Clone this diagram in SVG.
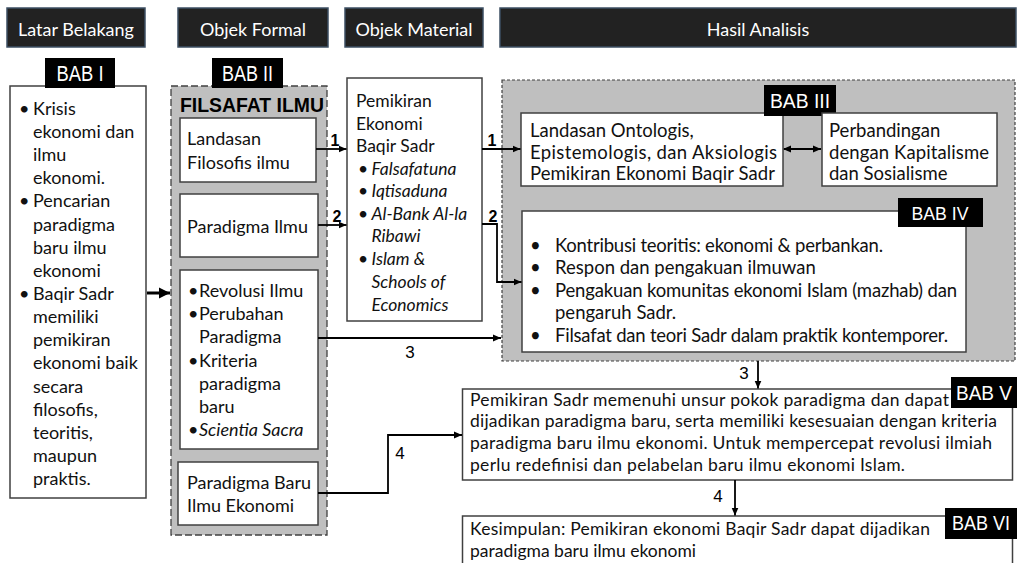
<svg xmlns="http://www.w3.org/2000/svg" width="1028" height="563" viewBox="0 0 1028 563">
<style>
.hdr{fill:#222;stroke:#3d4f63;stroke-width:1.5}
.ht{fill:#fff;font-family:Lato,'Open Sans',sans-serif;font-size:18px;text-anchor:middle}
.bab{fill:#000}
.bt{fill:#fff;font-family:'Liberation Sans',Arial,sans-serif;text-anchor:middle}
.box{fill:#fff;stroke:#404040;stroke-width:1.5}
.gray1{fill:#bfbfbf;stroke:#404040;stroke-width:1.3;stroke-dasharray:7 3}
.gray2{fill:#bfbfbf;stroke:#404040;stroke-width:1.2;stroke-dasharray:3 2}
.t{font-family:Lato,'Open Sans',sans-serif;font-size:18px;fill:#111}
.s{font-family:Lato,'Open Sans',sans-serif;font-size:17.5px;fill:#111}
.m{font-family:Lato,'Open Sans',sans-serif;font-size:18.5px;fill:#111}
.i{font-style:italic}
.num{font-family:'Liberation Sans',Arial,sans-serif;font-size:17px;fill:#000;text-anchor:middle}
.nb{font-family:'Liberation Sans',Arial,sans-serif;font-size:16px;font-weight:bold;fill:#000;text-anchor:middle}
.c{fill:none;stroke:#000;stroke-width:1.8}
</style>
<defs>
<marker id="ah" markerUnits="userSpaceOnUse" markerWidth="9" markerHeight="8" refX="8" refY="4" orient="auto">
<path d="M0,0.5 L8,4 L0,7.5 z" fill="#000"/>
</marker>
<marker id="ahs" markerUnits="userSpaceOnUse" markerWidth="9" markerHeight="8" refX="1" refY="4" orient="auto">
<path d="M8,0.5 L0,4 L8,7.5 z" fill="#000"/>
</marker>
<marker id="ahb" markerUnits="userSpaceOnUse" markerWidth="12" markerHeight="12" refX="11" refY="6" orient="auto">
<path d="M0,0.5 L11,6 L0,11.5 z" fill="#000"/>
</marker>
</defs>
<rect width="1028" height="563" fill="#fff"/>

<g id="headers">
<rect class="hdr" x="7" y="8" width="138" height="39"/>
<text class="ht" x="76" y="35.5">Latar Belakang</text>
<rect class="hdr" x="178" y="8" width="150" height="39"/>
<text class="ht" x="253" y="35.5">Objek Formal</text>
<rect class="hdr" x="345" y="8" width="138" height="39"/>
<text class="ht" x="414" y="35.5">Objek Material</text>
<rect class="hdr" x="500" y="8" width="516" height="39"/>
<text class="ht" x="758" y="35.5">Hasil Analisis</text>
</g>

<g id="latar">
<rect class="box" x="10" y="86" width="136" height="412"/>
<rect class="bab" x="45" y="58" width="70" height="30"/>
<text class="bt" x="80" y="81" font-size="21.5" textLength="47" lengthAdjust="spacingAndGlyphs">BAB I</text>
<g class="t">
<text x="19" y="115">•</text><text x="33" y="115">Krisis</text>
<text x="33" y="138">ekonomi dan</text>
<text x="33" y="161">ilmu</text>
<text x="33" y="184">ekonomi.</text>
<text x="19" y="207">•</text><text x="33" y="207">Pencarian</text>
<text x="33" y="230.5">paradigma</text>
<text x="33" y="253.5">baru ilmu</text>
<text x="33" y="276.5">ekonomi</text>
<text x="19" y="300">•</text><text x="33" y="300">Baqir Sadr</text>
<text x="33" y="323">memiliki</text>
<text x="33" y="346">pemikiran</text>
<text x="33" y="369">ekonomi baik</text>
<text x="33" y="392.5">secara</text>
<text x="33" y="415.5">filosofis,</text>
<text x="33" y="438.5">teoritis,</text>
<text x="33" y="461.5">maupun</text>
<text x="33" y="484.5">praktis.</text>
</g>
</g>

<g id="formal">
<rect class="gray1" x="171" y="86" width="156" height="449"/>
<rect class="bab" x="212" y="58" width="71" height="30"/>
<text class="bt" x="247.5" y="81" font-size="21.5" textLength="51" lengthAdjust="spacingAndGlyphs">BAB II</text>
<text x="180" y="111.5" font-family="'Liberation Sans',Arial,sans-serif" font-weight="bold" font-size="20" textLength="144" lengthAdjust="spacingAndGlyphs" fill="#000">FILSAFAT ILMU</text>
</g>

<g id="landasan-filosofis">
<rect class="box" x="180" y="118" width="136" height="64"/>
<text class="t" x="187" y="145">Landasan</text>
<text class="t" x="187" y="168.5">Filosofis ilmu</text>
</g>

<g id="paradigma-ilmu">
<rect class="box" x="180" y="194" width="138" height="63"/>
<text class="t" x="187" y="232.5">Paradigma Ilmu</text>
</g>

<g id="revolusi">
<rect class="box" x="180" y="270" width="138" height="179"/>
<g class="t">
<text x="188" y="297">•</text><text x="199" y="297">Revolusi Ilmu</text>
<text x="188" y="320">•</text><text x="199" y="320">Perubahan</text>
<text x="199" y="343">Paradigma</text>
<text x="188" y="367">•</text><text x="199" y="367">Kriteria</text>
<text x="199" y="390">paradigma</text>
<text x="199" y="413">baru</text>
<text x="188" y="436">•</text><text class="i" x="199" y="436">Scientia Sacra</text>
</g>
</g>

<g id="paradigma-baru">
<rect class="box" x="178" y="462" width="140" height="63"/>
<text class="t" x="187" y="489">Paradigma Baru</text>
<text class="t" x="187" y="512">Ilmu Ekonomi</text>
</g>

<g id="pemikiran">
<rect class="box" x="347" y="78" width="135" height="243"/>
<g class="s">
<text x="356" y="107">Pemikiran</text>
<text x="356" y="129.5">Ekonomi</text>
<text x="356" y="152">Baqir Sadr</text>
<text x="358" y="174.5">•</text><text class="i" x="371.5" y="174.5">Falsafatuna</text>
<text x="358" y="197">•</text><text class="i" x="371.5" y="197">Iqtisaduna</text>
<text x="358" y="219.5">•</text><text class="i" x="371.5" y="219.5">Al-Bank Al-la</text>
<text class="i" x="371.5" y="242">Ribawi</text>
<text x="358" y="265">•</text><text class="i" x="371.5" y="265">Islam &amp;</text>
<text class="i" x="371.5" y="288">Schools of</text>
<text class="i" x="371.5" y="310.5">Economics</text>
</g>
</g>

<g id="hasil">
<rect class="gray2" x="502" y="80" width="513" height="281"/>
</g>

<g id="ontologis">
<rect class="box" x="521" y="113" width="262" height="73"/>
<g class="m">
<text x="530" y="137">Landasan Ontologis,</text>
<text x="530" y="158.5" textLength="247">Epistemologis, dan Aksiologis</text>
<text x="530" y="180" textLength="245">Pemikiran Ekonomi Baqir Sadr</text>
</g>
<rect class="bab" x="764" y="85" width="72" height="31"/>
<text class="bt" x="800" y="108" font-size="20" textLength="60" lengthAdjust="spacingAndGlyphs">BAB III</text>
</g>

<g id="perbandingan">
<rect class="box" x="822" y="113" width="175" height="73"/>
<g class="m">
<text x="829" y="137">Perbandingan</text>
<text x="829" y="158.5" textLength="160">dengan Kapitalisme</text>
<text x="829" y="180">dan Sosialisme</text>
</g>
</g>

<g id="bab4">
<rect class="box" x="522" y="211" width="444" height="141"/>
<rect class="bab" x="898" y="198" width="85" height="29"/>
<text class="bt" x="940" y="220" font-size="18.5" textLength="57" lengthAdjust="spacingAndGlyphs">BAB IV</text>
<g class="m">
<text x="530" y="251.5">•</text><text x="555" y="251.5" textLength="328">Kontribusi teoritis: ekonomi &amp; perbankan.</text>
<text x="530" y="274">•</text><text x="555" y="274">Respon dan pengakuan ilmuwan</text>
<text x="530" y="296.5">•</text><text x="555" y="296.5" textLength="402">Pengakuan komunitas ekonomi Islam (mazhab) dan</text>
<text x="555" y="319">pengaruh Sadr.</text>
<text x="530" y="341.5">•</text><text x="555" y="341.5" textLength="393">Filsafat dan teori Sadr dalam praktik kontemporer.</text>
</g>
</g>

<g id="bab5">
<rect class="box" x="462.5" y="389" width="550" height="91"/>
<g class="s">
<text x="470" y="405.5" textLength="479">Pemikiran Sadr memenuhi unsur pokok paradigma dan dapat</text>
<text x="470" y="427" textLength="527">dijadikan paradigma baru, serta memiliki kesesuaian dengan kriteria</text>
<text x="470" y="449" textLength="522">paradigma baru ilmu ekonomi. Untuk mempercepat revolusi ilmiah</text>
<text x="470" y="471" textLength="435">perlu redefinisi dan pelabelan baru ilmu ekonomi Islam.</text>
</g>
<rect class="bab" x="951" y="377" width="66" height="31"/>
<text class="bt" x="984" y="400" font-size="21" textLength="56" lengthAdjust="spacingAndGlyphs">BAB V</text>
</g>

<g id="bab6">
<rect class="box" x="462.5" y="516" width="550" height="60"/>
<g class="s">
<text x="470" y="535" textLength="460">Kesimpulan: Pemikiran ekonomi Baqir Sadr dapat dijadikan</text>
<text x="470" y="556.5">paradigma baru ilmu ekonomi</text>
</g>
<rect class="bab" x="945" y="508" width="72" height="31"/>
<text class="bt" x="981" y="530" font-size="21" textLength="58" lengthAdjust="spacingAndGlyphs">BAB VI</text>
</g>

<g id="connectors">
<line x1="147" y1="293" x2="170" y2="293" stroke="#000" stroke-width="3" marker-end="url(#ahb)"/>
<line class="c" x1="316" y1="149" x2="346.5" y2="149" marker-end="url(#ah)"/>
<line class="c" x1="318" y1="225" x2="346.5" y2="225" marker-end="url(#ah)"/>
<line class="c" x1="482" y1="149" x2="520.5" y2="149" marker-end="url(#ah)"/>
<polyline class="c" points="482,224 497,224 497,282 521.5,282" marker-end="url(#ah)"/>
<line class="c" x1="318" y1="338" x2="501" y2="338" stroke-width="1.5" marker-end="url(#ah)"/>
<polyline class="c" points="318,493 388,493 388,435 462,435" marker-end="url(#ah)"/>
<line class="c" x1="758" y1="361" x2="758" y2="388.5" stroke-width="1.6" marker-end="url(#ah)"/>
<line class="c" x1="735" y1="480" x2="735" y2="515.5" stroke-width="1.6" marker-end="url(#ah)"/>
<line class="c" x1="784" y1="149" x2="821" y2="149" stroke-width="1.5" marker-start="url(#ahs)" marker-end="url(#ah)"/>
<text class="nb" x="335" y="146">1</text>
<text class="nb" x="337" y="222">2</text>
<text class="nb" x="492" y="146">1</text>
<text class="nb" x="493" y="222">2</text>
<text class="num" x="410" y="358">3</text>
<text class="num" x="744" y="379">3</text>
<text class="num" x="400" y="459">4</text>
<text class="num" x="718" y="502">4</text>
</g>
</svg>
